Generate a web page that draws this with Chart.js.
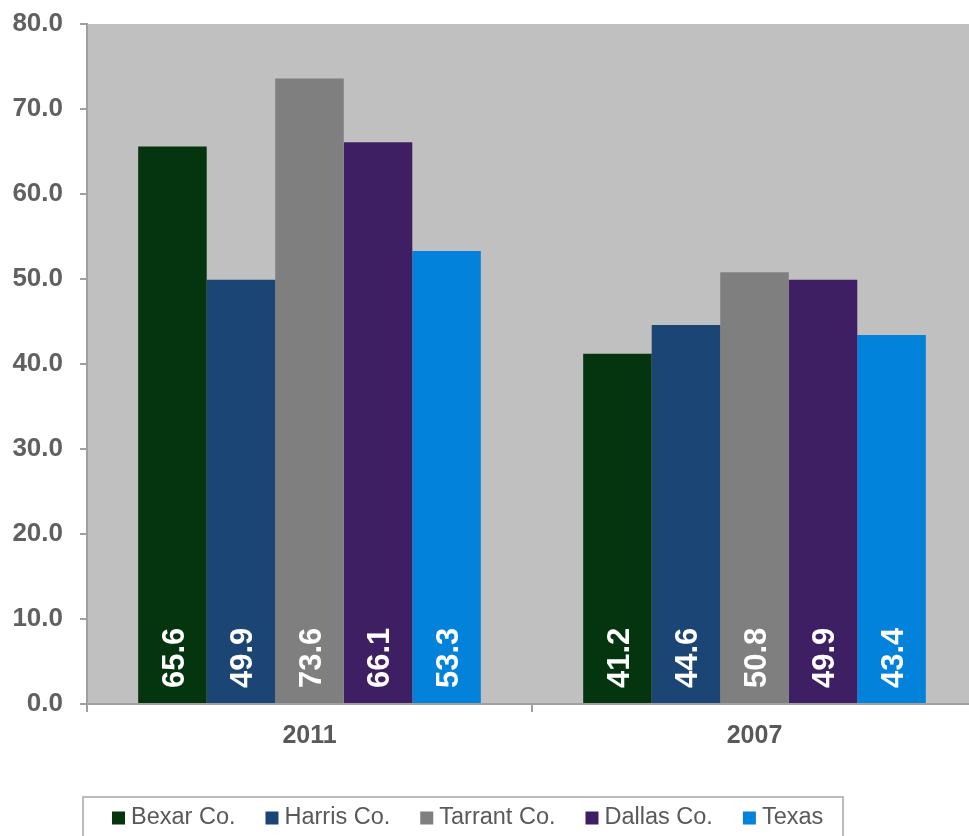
<!DOCTYPE html>
<html>
<head>
<meta charset="utf-8">
<script src="https://cdn.jsdelivr.net/npm/chart.js@4/dist/chart.umd.min.js"></script>
<style>
  html, body { margin: 0; padding: 0; background: #ffffff; overflow: hidden; }
  /* the plot runs slightly past the right edge of the visible frame */
  #wrap { width: 969px; height: 836px; overflow: hidden; }
  #c { display: block; }
</style>
</head>
<body>
<div id="wrap"><canvas id="c" width="977" height="836"></canvas></div>
<script>
// Years on the category axis
const years = ['2011', '2007'];

// One series per area
const seriesNames = ['Bexar Co.', 'Harris Co.', 'Tarrant Co.', 'Dallas Co.', 'Texas'];
const bexar   = [65.6, 41.2];
const harris  = [49.9, 44.6];
const tarrant = [73.6, 50.8];
const dallas  = [66.1, 49.9];
const texas   = [53.3, 43.4];

// Value axis ticks
const yTicks = [0, 10, 20, 30, 40, 50, 60, 70, 80];

const seriesColors = ['#04350f', '#1b4574', '#7f7f7f', '#3f1f63', '#0382db'];
const seriesValues = [bexar, harris, tarrant, dallas, texas];

const FONT = '"Liberation Sans", Arial, Helvetica, sans-serif';
const AXIS_GREY = '#a0a0a0';

// Grey fill behind the plot area
const plotBackground = {
  id: 'plotBackground',
  beforeDraw(chart) {
    const { ctx, chartArea: a } = chart;
    ctx.save();
    ctx.fillStyle = '#c0c0c0';
    ctx.fillRect(a.left, a.top, a.right - a.left, a.bottom - a.top);
    ctx.restore();
  }
};

// Rotated value labels sitting at the base of each bar
const barValueLabels = {
  id: 'barValueLabels',
  afterDatasetsDraw(chart) {
    const { ctx } = chart;
    const size = 31;
    ctx.save();
    ctx.fillStyle = '#ffffff';
    ctx.font = 'bold ' + size + 'px ' + FONT;
    ctx.textAlign = 'left';
    ctx.textBaseline = 'alphabetic';
    chart.data.datasets.forEach((ds, i) => {
      const meta = chart.getDatasetMeta(i);
      meta.data.forEach((bar, j) => {
        const v = ds.data[j];
        ctx.save();
        ctx.translate(bar.x, bar.base - 15);
        ctx.rotate(-Math.PI / 2);
        ctx.fillText(v.toFixed(1), 0, size * 0.716 / 2);
        ctx.restore();
      });
    });
    ctx.restore();
  }
};

// Boxed legend along the bottom
const boxedLegend = {
  id: 'boxedLegend',
  afterDraw(chart) {
    const { ctx } = chart;
    const boxX = 83, boxY = 797, boxW = 760, boxH = 60;
    const marker = 13, gapText = 6, gapItem = 30;
    ctx.save();
    ctx.strokeStyle = '#a6a6a6';
    ctx.lineWidth = 1.5;
    ctx.strokeRect(boxX, boxY, boxW, boxH);
    ctx.font = '23.5px ' + FONT;
    ctx.textBaseline = 'middle';
    ctx.textAlign = 'left';
    const cy = 818;
    let x = boxX + 29;
    chart.data.datasets.forEach((ds) => {
      ctx.fillStyle = ds.backgroundColor;
      ctx.fillRect(x, cy - marker / 2, marker, marker);
      x += marker + gapText;
      ctx.fillStyle = '#595959';
      ctx.fillText(ds.label, x, cy);
      x += ctx.measureText(ds.label).width + gapItem;
    });
    ctx.restore();
  }
};

const datasets = seriesNames.map((name, i) => ({
  label: name,
  data: seriesValues[i],
  backgroundColor: seriesColors[i],
  borderWidth: 0,
  barPercentage: 1.0,
  categoryPercentage: 0.77
}));

new Chart(document.getElementById('c'), {
  type: 'bar',
  data: { labels: years, datasets },
  options: {
    responsive: false,
    animation: false,
    layout: { padding: { left: 0, right: 0, top: 24, bottom: 92 } },
    plugins: {
      legend: { display: false },
      tooltip: { enabled: false }
    },
    scales: {
      x: {
        offset: true,
        afterFit(scale) {
          scale.height = 40;
          scale.paddingLeft = 0;
          scale.paddingRight = 0;
        },
        grid: {
          display: true,
          offset: true,
          drawOnChartArea: false,
          drawTicks: true,
          tickLength: 8,
          color: AXIS_GREY,
          lineWidth: 2
        },
        border: { display: true, color: AXIS_GREY, width: 2 },
        ticks: {
          color: '#595959',
          padding: 9,
          font: { family: FONT, size: 25, weight: 'bold' }
        }
      },
      y: {
        min: 0,
        max: 80,
        afterFit(scale) {
          scale.width = 87;
          scale.paddingTop = 0;
          scale.paddingBottom = 0;
        },
        afterBuildTicks(scale) {
          scale.ticks = yTicks.map(v => ({ value: v }));
        },
        grid: {
          display: true,
          drawOnChartArea: false,
          drawTicks: true,
          tickLength: 7,
          color: AXIS_GREY,
          lineWidth: 2
        },
        border: { display: true, color: AXIS_GREY, width: 2 },
        ticks: {
          color: '#606060',
          padding: 17,
          font: { family: FONT, size: 26, weight: 'bold' },
          callback: (v) => Number(v).toFixed(1)
        }
      }
    }
  },
  plugins: [plotBackground, barValueLabels, boxedLegend]
});
</script>
</body>
</html>
